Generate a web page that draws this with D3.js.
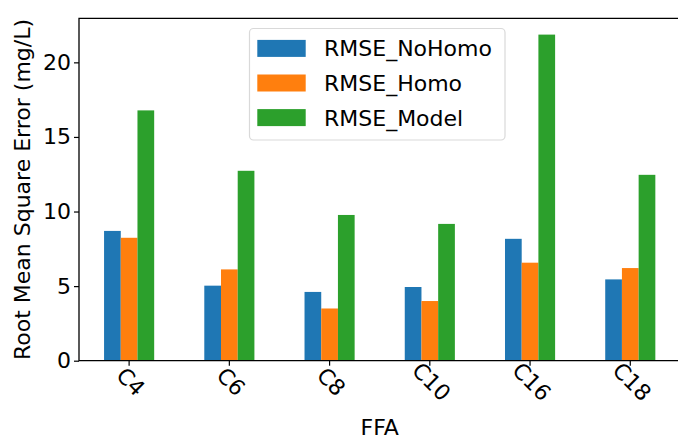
<!DOCTYPE html>
<html>
<head>
<meta charset="utf-8">
<script src="https://cdn.jsdelivr.net/npm/d3@7"></script>
<style>
  body { margin: 0; background: #fff; }
  svg { display: block; font-family: "DejaVu Sans", sans-serif; }
</style>
</head>
<body>
<svg id="chart"></svg>
<script>
// values
const categories = ['C4', 'C6', 'C8', 'C10', 'C16', 'C18']
const seriesNames = ['RMSE_NoHomo', 'RMSE_Homo', 'RMSE_Model']
const noHomo = [8.7, 5.03, 4.61, 4.94, 8.17, 5.45]
const homo = [8.24, 6.12, 3.5, 4.0, 6.57, 6.21]
const model = [16.78, 12.73, 9.77, 9.17, 21.86, 12.46]
const yTicks = [0, 5, 10, 15, 20]
const colors = ['#1f77b4', '#ff7f0e', '#2ca02c']

const W = 678, H = 440
const plotLeft = 79, plotTop = 18.3, plotBottom = 360.7, plotRight = 680.4
const fontSize = 22

const series = [noHomo, homo, model]

let svg = d3.select('#chart')
    .attr('width', W)
    .attr('height', H)

let x = d3.scaleBand()
    .domain(categories)
    .range([plotLeft, plotRight])
    .padding(0)

let yMax = d3.max(model) * 1.05
let y = d3.scaleLinear()
    .domain([0, yMax])
    .range([plotBottom, plotTop])

let bw = x.bandwidth()
let barW = bw * 0.5 / 3

// bars
series.forEach((vals, si) => {
    svg.append('g')
        .selectAll('rect')
        .data(vals)
        .enter().append('rect')
        .attr('x', (d, i) => x(categories[i]) + bw / 2 + (si - 1.5) * barW)
        .attr('y', d => y(d))
        .attr('width', barW)
        .attr('height', d => y(0) - y(d))
        .attr('fill', colors[si])
})

// y axis
let yAxis = svg.append('g')
    .attr('transform', `translate(${plotLeft},0)`)
    .call(d3.axisLeft(y).tickValues(yTicks).tickSize(5).tickPadding(3))
yAxis.select('.domain').remove()
yAxis.selectAll('line').attr('stroke', '#000').attr('stroke-width', 1.2)
yAxis.selectAll('text')
    .attr('font-size', fontSize)
    .attr('font-family', 'DejaVu Sans')
    .attr('fill', '#000')

// x axis, labels turned 45 degrees clockwise
let xAxis = svg.append('g')
    .attr('transform', `translate(0,${plotBottom})`)
    .call(d3.axisBottom(x).tickSize(5).tickPadding(0))
xAxis.select('.domain').remove()
xAxis.selectAll('line').attr('stroke', '#000').attr('stroke-width', 1.2)
xAxis.selectAll('text')
    .attr('font-size', fontSize)
    .attr('font-family', 'DejaVu Sans')
    .attr('fill', '#000')
    .attr('dy', null)
    .attr('y', 0)
    .attr('text-anchor', 'middle')
    .attr('dominant-baseline', 'central')
    .attr('transform', 'translate(1.5,21) rotate(45)')

// spines
svg.append('path')
    .attr('d', `M${plotLeft},${plotTop}V${plotBottom}H${plotRight}V${plotTop}Z`)
    .attr('fill', 'none')
    .attr('stroke', '#000')
    .attr('stroke-width', 1.3)

// axis labels
svg.append('text')
    .attr('transform', `translate(30,${(plotTop + plotBottom) / 2}) rotate(-90)`)
    .attr('text-anchor', 'middle')
    .attr('font-size', fontSize)
    .text('Root Mean Square Error (mg/L)')

svg.append('text')
    .attr('x', (plotLeft + plotRight) / 2)
    .attr('y', 435)
    .attr('text-anchor', 'middle')
    .attr('font-size', fontSize)
    .text('FFA')

// legend
let lg = svg.append('g')
lg.append('rect')
    .attr('x', 249.5)
    .attr('y', 28.5)
    .attr('width', 255.5)
    .attr('height', 111.5)
    .attr('rx', 4)
    .attr('fill', '#fff')
    .attr('fill-opacity', 0.8)
    .attr('stroke', '#d9d9d9')
    .attr('stroke-width', 1.2)

seriesNames.forEach((name, i) => {
    let cy = 48.4 + i * 34.6
    lg.append('rect')
        .attr('x', 257.3)
        .attr('y', cy - 8.5)
        .attr('width', 48.4)
        .attr('height', 17)
        .attr('fill', colors[i])
    lg.append('text')
        .attr('x', 324)
        .attr('y', cy + 8)
        .attr('font-size', fontSize)
        .text(name)
})
</script>
</body>
</html>
